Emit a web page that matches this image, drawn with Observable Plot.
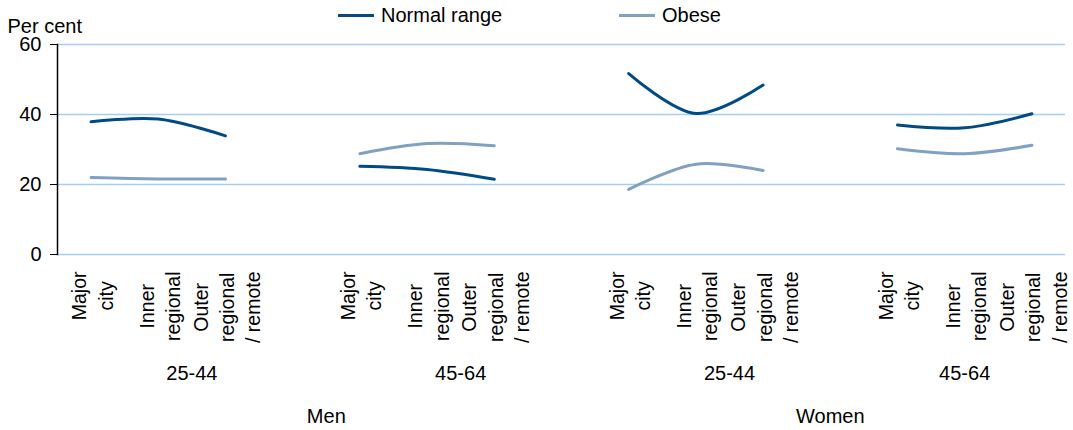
<!DOCTYPE html>
<html>
<head>
<meta charset="utf-8">
<script src="https://cdn.jsdelivr.net/npm/d3@7"></script>
<script src="https://cdn.jsdelivr.net/npm/@observablehq/plot@0.6"></script>
<style>
  body { margin: 0; background: #fff; font-family: "Liberation Sans", Arial, sans-serif; color: #000; }
  #legend { position: relative; height: 14px; width: 1073px; font-size: 20px; z-index: 2; }
  .item { position: absolute; top: 5px; height: 20px; display: flex; align-items: center; }
  .sw { width: 36px; height: 3px; margin-right: 7px; }
  #chart { position: relative; z-index: 1; }
  #chart svg { overflow: visible; }
</style>
</head>
<body>
<div id="legend"></div>
<div id="chart"></div>
<script>
// ---- data ----
const categories = ["Major city", "Inner regional", "Outer regional / remote"];
const categoryLabels = ["Major\ncity", "Inner\nregional", "Outer\nregional\n/ remote"];
const ageGroups = ["25-44", "45-64", "25-44", "45-64"];
const sexGroups = ["Men", "Women"];
const seriesNames = ["Normal range", "Obese"];
const normalRange = [37.9, 38.7, 33.9, 25.2, 24.3, 21.5, 51.7, 40.3, 48.4, 37.0, 36.2, 40.2];
const obese = [22.0, 21.6, 21.6, 28.8, 31.7, 31.1, 18.6, 25.8, 24.0, 30.2, 28.8, 31.2];
const yTicks = [0, 20, 40, 60];
const colors = ["#004a85", "#80a1c2"];

// ---- derived tables ----
const perGroup = categories.length + 1;                 // categories + one blank gap
const nSlots = ageGroups.length * perGroup - 1;
const rows = [];
ageGroups.forEach((age, g) => {
  categories.forEach((cat, c) => {
    const slot = g * perGroup + c;
    const k = g * categories.length + c;
    rows.push({series: seriesNames[0], group: g, slot, value: normalRange[k]});
    rows.push({series: seriesNames[1], group: g, slot, value: obese[k]});
  });
});
const tickRows = [];
ageGroups.forEach((age, g) => categoryLabels.forEach((lab, c) => tickRows.push({slot: g * perGroup + c, label: lab})));
const ageRows = ageGroups.map((age, g) => ({label: age, slot: (g * perGroup + Math.min(g * perGroup + perGroup - 1, nSlots - 1)) / 2}));
const perSex = ageGroups.length / sexGroups.length;
const sexRows = sexGroups.map((s, i) => {
  const a = i * perSex * perGroup, b = Math.min((i + 1) * perSex * perGroup - 1, nSlots - 1);
  return {label: s, slot: (a + b) / 2};
});

// ---- legend ----
const legend = document.getElementById("legend");
const legendLeft = [338, 619];
seriesNames.forEach((name, i) => {
  const it = document.createElement("div");
  it.className = "item";
  it.style.left = legendLeft[i] + "px";
  it.innerHTML = `<span class="sw" style="background:${colors[i]}"></span><span>${name}</span>`;
  legend.append(it);
});

// ---- chart ----
const chart = Plot.plot({
  width: 1073,
  height: 416,
  marginTop: 30,
  marginBottom: 176,
  marginLeft: 57,
  marginRight: 8,
  style: {fontFamily: "Liberation Sans, Arial, sans-serif", fontSize: "20px", color: "#000", background: "transparent", overflow: "visible"},
  x: {type: "linear", domain: [-0.5, nSlots - 0.5], axis: null},
  y: {domain: [0, 60], axis: null},
  color: {domain: seriesNames, range: colors},
  marks: [
    Plot.gridY(yTicks, {stroke: "#a6cef5", strokeOpacity: 1, strokeWidth: 1.3}),
    Plot.frame({anchor: "left", stroke: "#000", strokeWidth: 1.5}),
    Plot.axisY(yTicks, {tickSize: 7, tickPadding: 9, fontSize: 20, label: null, stroke: "#000", fill: "#000"}),
    Plot.text(["Per cent"], {frameAnchor: "top-left", textAnchor: "start", lineAnchor: "bottom", dx: -50, dy: -12, fontSize: 20, fill: "#000"}),
    Plot.line(rows, {x: "slot", y: "value", z: d => d.series + d.group, stroke: "series", strokeWidth: 3, curve: "catmull-rom"}),
    Plot.text(tickRows, {x: "slot", text: "label", frameAnchor: "bottom", rotate: -90, textAnchor: "middle", lineAnchor: "middle", lineHeight: 1.35, fontSize: 19.5, fill: "#000"}),
    Plot.text(ageRows, {x: "slot", text: "label", frameAnchor: "bottom", lineAnchor: "middle", dy: 119, fontSize: 20, fill: "#000"}),
    Plot.text(sexRows, {x: "slot", text: "label", frameAnchor: "bottom", lineAnchor: "middle", dy: 162, fontSize: 20, fill: "#000"})
  ]
});
document.getElementById("chart").append(chart);

// top-align each rotated (centred-line) category label just below the axis
d3.select(chart).selectAll("text").each(function () {
  const t = this.getAttribute("transform") || "";
  if (!t.includes("rotate")) return;
  const spans = this.querySelectorAll("tspan");
  let max = 0;
  if (spans.length) spans.forEach(s => { max = Math.max(max, s.getComputedTextLength()); });
  else max = this.getComputedTextLength();
  this.setAttribute("transform", `translate(0,${17 + max / 2}) ${t}`);
});
</script>
</body>
</html>
